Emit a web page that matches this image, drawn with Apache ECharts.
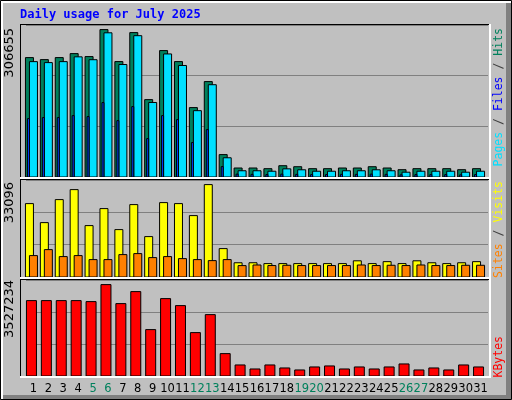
<!DOCTYPE html>
<html>
<head>
<meta charset="utf-8">
<script src="https://cdn.jsdelivr.net/npm/echarts@6/dist/echarts.min.js"></script>
<style>html,body{margin:0;padding:0;background:#c0c0c0}#chart{width:512px;height:400px}</style>
</head>
<body>
<div id="chart"></div>
<script>
const days = ['1','2','3','4','5','6','7','8','9','10','11','12','13','14','15','16','17','18','19','20','21','22','23','24','25','26','27','28','29','30','31'];
const weekend = ['5','6','12','13','19','20','26','27'];
const hits = [248400,244200,248400,256700,250500,306655,240100,300400,161000,263000,240100,144400,198500,46600,18700,18700,17300,23500,21400,17300,17300,18700,18700,21400,18700,15200,17300,17300,17300,15200,17300];
const files = [240000,238000,240000,250000,244000,300000,234000,294000,155000,256000,232000,138000,192000,40000,13000,13000,12000,17000,15000,12000,12000,13000,13000,15000,13000,10000,12000,12000,12000,10000,12000];
const pages = [121500,123600,123600,127700,125700,154800,117300,146500,79900,127700,119400,71600,98600,21600,6000,5500,5000,6000,5500,5000,5000,5500,5500,6000,5500,4500,5000,5000,5000,4500,5000];
const visits = [26290,19480,27720,31300,18410,24500,16980,25930,14470,26650,26290,21990,33096,10170,5100,5100,4800,4800,4800,4800,4800,4800,5800,4800,5500,4800,5800,5100,4800,5100,5500];
const sites = [7670,9810,7310,7670,6230,6230,8020,8380,6950,7310,6590,6230,5870,6230,4080,4300,4100,4200,4100,4100,4100,4100,4300,4100,4200,4100,4300,4100,4100,4200,4200];
const kbytes = [2909800,2909800,2909800,2909800,2871000,3527234,2794000,3257000,1790600,2987000,2717000,1675000,2369000,864000,426000,271000,426000,310000,233000,349000,388000,271000,349000,271000,349000,465000,233000,310000,233000,426000,349000];

const chart = echarts.init(document.getElementById('chart'));

function barSeries(data, idx, off, w, color) {
    return {
        type: 'custom', xAxisIndex: idx, yAxisIndex: idx,
        data: data.map((v, i) => [i, v]),
        renderItem: function (params, api) {
            const top = api.coord([api.value(0), api.value(1)]);
            const base = api.coord([api.value(0), 0]);
            return {
                type: 'rect',
                shape: {x: top[0] + off, y: top[1], width: w, height: base[1] - top[1]},
                style: {fill: color, stroke: '#000', lineWidth: 1}
            };
        }
    };
}

// panel tops/heights in px
const panels = [[25, 152], [180, 97], [280, 96]];
const maxes = [306655 * 152 / 147.4, 33096 * 97 / 92.4, 3527234 * 96 / 91.4];

const grids = panels.map(p => ({left: 26, right: 24, top: p[0], height: p[1]}));
const xAxes = panels.map((p, i) => ({
    type: 'category', gridIndex: i, data: days,
    axisLine: {show: false}, axisTick: {show: false},
    axisLabel: i === 2 ? {
        show: true, margin: 7, fontSize: 11.5, fontFamily: 'DejaVu Sans', interval: 0,
        color: function (v) { return weekend.includes(v) ? '#00805c' : '#000'; }
    } : {show: false}
}));
const yAxes = maxes.map((m, i) => ({
    type: 'value', gridIndex: i, min: 0, max: m, interval: m / 3,
    axisLabel: {show: false}, axisLine: {show: false}, axisTick: {show: false},
    splitLine: {lineStyle: {color: '#808080', width: 1}}
}));

function vtext(x, y, rich, text, font) {
    return {
        type: 'text', x: x, y: y, rotation: Math.PI / 2,
        style: {text: text, rich: rich, align: 'right', verticalAlign: 'middle', font: font}
    };
}
const mono = '11.5px "DejaVu Sans Mono"';
const r = (c) => ({fill: c, font: mono});

// panel frames: dark top/left, white bottom/right
const frames = [];
panels.forEach(p => {
    frames.push({type: 'rect', shape: {x: 20, y: p[0] - 1, width: 470, height: 1}, style: {fill: '#000'}, z: 50});
    frames.push({type: 'rect', shape: {x: 20, y: p[0] - 1, width: 1, height: p[1] + 1}, style: {fill: '#000'}, z: 50});
    frames.push({type: 'rect', shape: {x: 20, y: p[0] + p[1], width: 471, height: 2}, style: {fill: '#fff'}, z: 50});
});

chart.setOption({
    animation: false,
    backgroundColor: '#c0c0c0',
    grid: grids, xAxis: xAxes, yAxis: yAxes,
    series: [
        barSeries(hits, 0, -8, 8, '#00805c'),
        barSeries(files, 0, -4, 8, '#00e0ff'),
        barSeries(pages, 0, -6, 2, '#0040ff'),
        barSeries(visits, 1, -8, 8, '#ffff00'),
        barSeries(sites, 1, -4, 8, '#ff8000'),
        barSeries(kbytes, 2, -7, 10, '#ff0000')
    ],
    graphic: frames.concat([
        {type: 'rect', shape: {x: 0.5, y: 0.5, width: 511, height: 399}, style: {fill: 'none', stroke: '#000', lineWidth: 1}, z: 100},
        {type: 'rect', shape: {x: 1, y: 1, width: 510, height: 2}, style: {fill: '#fff'}},
        {type: 'rect', shape: {x: 1, y: 1, width: 2, height: 398}, style: {fill: '#fff'}},
        {type: 'rect', shape: {x: 506, y: 3, width: 5, height: 396}, style: {fill: '#808080'}},
        {type: 'rect', shape: {x: 3, y: 395, width: 508, height: 4}, style: {fill: '#808080'}},
        {type: 'rect', shape: {x: 489, y: 24, width: 2, height: 354}, style: {fill: '#fff'}, z: 50},
        {type: 'text', x: 20, y: 9, style: {text: 'Daily usage for July 2025', font: 'bold 12px "DejaVu Sans Mono"', fill: '#0000ff'}},
        vtext(10, 28, null, '306655', '13px "DejaVu Sans"'),
        vtext(10, 182, null, '33096', '13px "DejaVu Sans"'),
        vtext(10, 280, null, '3527234', '13px "DejaVu Sans"'),
        vtext(499, 28, {p: r('#00e0ff'), s: r('#404040'), f: r('#0000ff'), h: r('#00805c')},
            '{p|Pages}{s| / }{f|Files}{s| / }{h|Hits}', mono),
        vtext(499, 181, {a: r('#ff8000'), s: r('#404040'), v: r('#ffff00')},
            '{a|Sites}{s| / }{v|Visits}', mono),
        vtext(499, 336, {k: r('#ff0000')}, '{k|KBytes}', mono)
    ])
});
</script>
</body>
</html>
